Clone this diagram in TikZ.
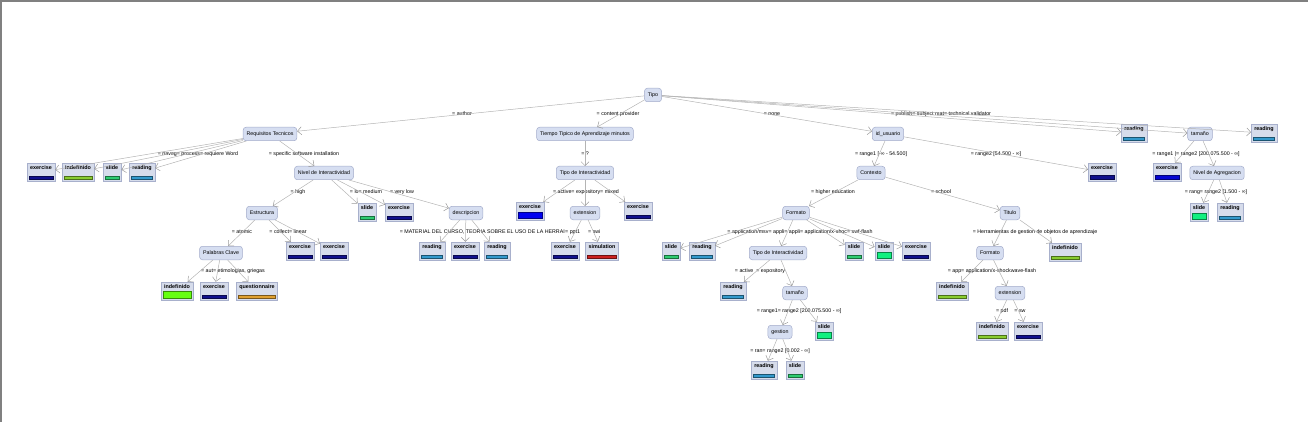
\documentclass[tikz,border=0pt]{standalone}
\usepackage{fontspec}
\setmainfont{Liberation Sans}
\usetikzlibrary{arrows.meta}
\definecolor{nodefill}{HTML}{D6DEF1}
\definecolor{nodeborder}{HTML}{A3ACCB}
\definecolor{leaffill}{HTML}{D6DCEB}
\definecolor{leafborder}{HTML}{A8B0CC}
\definecolor{edgegray}{HTML}{B4B4B4}
\definecolor{arrgray}{HTML}{9A9A9A}
\definecolor{cexer}{HTML}{10108C}
\definecolor{cexerb}{HTML}{0000F0}
\definecolor{cindef}{HTML}{88CC30}
\definecolor{cindefb}{HTML}{66FF11}
\definecolor{cslide}{HTML}{2ECC71}
\definecolor{cslideb}{HTML}{11F080}
\definecolor{cread}{HTML}{3399CC}
\definecolor{cquest}{HTML}{E0A030}
\definecolor{csim}{HTML}{CC2020}
\newcommand{\nfont}{\fontsize{5.3}{6}\selectfont}
\newcommand{\lfont}{\fontsize{5.4}{6}\selectfont\bfseries}
\tikzset{
  inner/.style={draw=nodeborder, fill=nodefill, rounded corners=3pt, minimum height=13.5pt,
    inner xsep=3.5pt, inner ysep=1pt, font=\nfont, line width=0.5pt},
  leaf/.style 2 args={draw=leafborder, fill=leaffill, font=\lfont, inner xsep=3pt, inner ysep=0pt,
    text height=6.5pt, text depth=11.5pt, line width=0.5pt,
    path picture={\filldraw[fill=#1, draw=#1!55!black, line width=0.6pt]
      ([xshift=2pt,yshift=2pt]path picture bounding box.south west) rectangle
      ([xshift=-2pt,yshift=2pt+#2]path picture bounding box.south east);}},
  lbl/.style={font=\nfont, inner sep=0pt},
  edge/.style={draw=edgegray, line width=0.5pt, -{Straight Barb[length=4pt,width=8pt,color=arrgray]}}
}
\begin{document}
\begin{tikzpicture}[x=1pt,y=-1pt]
\useasboundingbox (0,0) rectangle (1308,422);
\draw[gray, line width=1.5pt] (1,422) -- (1,1) -- (1308,1);
% level 0/1
\node[inner] (tipo) at (653,95) {Tipo};
\node[inner] (req) at (270,134) {Requisitos Tecnicos};
\node[inner] (tiempo) at (585,134) {Tiempo Tipico de Aprendizaje minutos};
\node[inner] (idu) at (888,134) {id\_usuario};
\node[leaf={cread}{3pt}] (r1) at (1134,133) {reading};
\node[inner] (tam1) at (1200,134) {tamaño};
\node[leaf={cread}{3pt}] (r2) at (1264,133) {reading};
\node[lbl] (l1) at (462,114) {= author};
\node[lbl] (l2) at (618,114) {= content provider};
\node[lbl] (l3) at (772,114) {= none};
\node[lbl] (l4) at (941,114) {= publish= subject mat= technical validator};
% under req
\node[leaf={cexer}{3pt}] (e1) at (41,172) {exercise};
\node[leaf={cindef}{3pt}] (i1) at (78,172) {indefinido};
\node[leaf={cslide}{3pt}] (s1) at (112,172) {slide};
\node[leaf={cread}{3pt}] (r3) at (142,172) {reading};
\node[inner] (nivel) at (324,173) {Nivel de Interactividad};
\node[lbl] (l5) at (198,154) {= naveg= process= requiere Word};
\node[lbl] (l6) at (304,154) {= specific software installation};
% under nivel
\node[inner] (estr) at (262,213) {Estructura};
\node[leaf={cslide}{3pt}] (s2) at (367,212) {slide};
\node[leaf={cexer}{3pt}] (e2) at (399,212) {exercise};
\node[inner] (desc) at (466,213) {descripcion};
\node[lbl] (l7) at (298,192) {= high};
\node[lbl] (l8) at (366,192) {= lo= medium};
\node[lbl] (l9) at (402,192) {= very low};
% under estr
\node[inner] (pal) at (221,253) {Palabras Clave};
\node[leaf={cexer}{3pt}] (e3) at (300,251) {exercise};
\node[leaf={cexer}{3pt}] (e4) at (334,251) {exercise};
\node[lbl] (l10) at (242,232) {= atomic};
\node[lbl] (l11) at (288,232) {= collect= linear};
% under pal
\node[leaf={cindefb}{7pt}] (i2) at (177,291) {indefinido};
\node[leaf={cexer}{3pt}] (e5) at (214,291) {exercise};
\node[leaf={cquest}{3pt}] (q1) at (257,291) {questionnaire};
\node[lbl] (l12) at (233,271) {= aut= etimologias, griegas};
% under desc
\node[leaf={cread}{3pt}] (r4) at (432,251) {reading};
\node[leaf={cexer}{3pt}] (e6) at (465,251) {exercise};
\node[leaf={cread}{3pt}] (r5) at (497,251) {reading};
\node[lbl, anchor=east] (l13) at (565,232) {= MATERIAL DEL CURSO, TEORIA SOBRE EL USO DE LA HERRAI};
% tiempo branch
\node[inner] (tipoi) at (585,173) {Tipo de Interactividad};
\node[lbl] (l14) at (585,154) {= ?};
\node[leaf={cexerb}{6pt}] (e7) at (530,211) {exercise};
\node[inner] (ext1) at (585,213) {extension};
\node[leaf={cexer}{3pt}] (e8) at (638,211) {exercise};
\node[lbl] (l15) at (586,192) {= active= expository= mixed};
\node[leaf={cexer}{3pt}] (e9) at (565,251) {exercise};
\node[leaf={csim}{3pt}] (sim) at (602,251) {simulation};
\node[lbl, anchor=west] (l16) at (565,232) {= ppt1};
\node[lbl, anchor=west] (l17) at (588,232) {= swi};
% idu branch
\node[inner] (ctx) at (871,173) {Contexto};
\node[leaf={cexer}{3.5pt}] (e10) at (1102,172) {exercise};
\node[lbl] (l18) at (881,154) {= range1 [-∞ - 54.500]};
\node[lbl] (l19) at (996,154) {= range2 [54.500 - ∞]};
\node[inner] (form1) at (796,213) {Formato};
\node[inner] (tit) at (1010,213) {Titulo};
\node[lbl] (l20) at (833,192) {= higher education};
\node[lbl] (l21) at (941,192) {= school};
% form1
\node[leaf={cslide}{3pt}] (s3) at (671,251) {slide};
\node[leaf={cread}{3pt}] (r6) at (702,251) {reading};
\node[inner] (tipoi2) at (778,253) {Tipo de Interactividad};
\node[leaf={cslide}{3pt}] (s4) at (854,251) {slide};
\node[leaf={cslideb}{6pt}] (s5) at (884,251) {slide};
\node[leaf={cexer}{3pt}] (e11) at (916,251) {exercise};
\node[lbl] (l22) at (800,232) {= application/msv= appli= appli= application/x-shoc= swf-flash};
% tipoi2
\node[leaf={cread}{3pt}] (r7) at (733,291) {reading};
\node[inner] (tam2) at (795,293) {tamaño};
\node[lbl] (l23) at (760,271) {= active \ = expository};
\node[inner] (gest) at (780,332) {gestion};
\node[leaf={cslideb}{6pt}] (s6) at (824,331) {slide};
\node[lbl] (l24) at (799,311) {= range1= range2 [200.075.500 - ∞]};
\node[leaf={cread}{3pt}] (r8) at (764,370) {reading};
\node[leaf={cslide}{3pt}] (s7) at (795,370) {slide};
\node[lbl] (l25) at (780,351) {= ran= range2 [0.002 - ∞]};
% titulo
\node[inner] (form2) at (990,253) {Formato};
\node[leaf={cindef}{3pt}] (i3) at (1065,252) {indefinido};
\node[lbl] (l26) at (1035,232) {= Herramientas de gestion de objetos de aprendizaje};
\node[leaf={cindef}{3pt}] (i4) at (952,291) {indefinido};
\node[inner] (ext2) at (1010,293) {extension};
\node[lbl] (l27) at (992,271) {= app= application/x-shockwave-flash};
\node[leaf={cindef}{3pt}] (i5) at (992,331) {indefinido};
\node[leaf={cexer}{3pt}] (e12) at (1028,331) {exercise};
\node[lbl] (l28) at (1002,311) {= pdf};
\node[lbl] (l29) at (1020,311) {= sw};
% tam1
\node[leaf={cexerb!70!cexer}{4pt}] (e13) at (1167,172) {exercise};
\node[inner] (nivagr) at (1217,173) {Nivel de Agregacion};
\node[lbl] (l30) at (1196,154) {= range1 |= range2 [200.075.500 - ∞]};
\node[leaf={cslideb}{6pt}] (s8) at (1199,212) {slide};
\node[leaf={cread}{3pt}] (r9) at (1230,212) {reading};
\node[lbl] (l31) at (1216,192) {= rang= range2 [1.500 - ∞]};
% edges
\foreach \a/\b in {tipo/req, tipo/tiempo, tipo/idu, tipo/r1, tipo/tam1, tipo/r2,
  req/e1, req/i1, req/s1, req/r3, req/nivel,
  nivel/estr, nivel/s2, nivel/e2, nivel/desc,
  estr/pal, estr/e3, estr/e4,
  pal/i2, pal/e5, pal/q1,
  desc/r4, desc/e6, desc/r5,
  tiempo/tipoi, tipoi/e7, tipoi/ext1, tipoi/e8, ext1/e9, ext1/sim,
  idu/ctx, idu/e10, ctx/form1, ctx/tit,
  form1/s3, form1/r6, form1/tipoi2, form1/s4, form1/s5, form1/e11,
  tipoi2/r7, tipoi2/tam2, tam2/gest, tam2/s6, gest/r8, gest/s7,
  tit/form2, tit/i3, form2/i4, form2/ext2, ext2/i5, ext2/e12,
  tam1/e13, tam1/nivagr, nivagr/s8, nivagr/r9}
  \draw[edge] (\a) -- (\b);
\end{tikzpicture}
\end{document}
